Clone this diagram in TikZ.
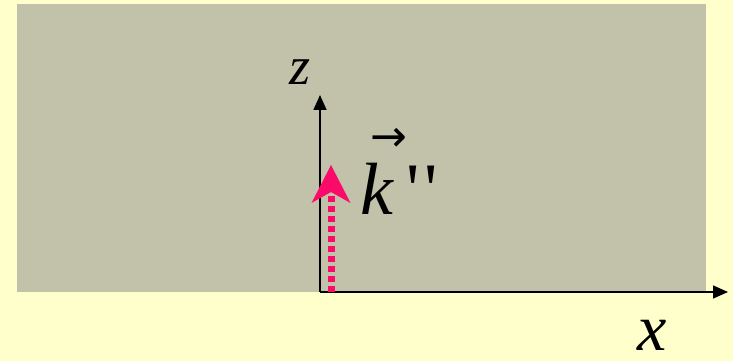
\documentclass[tikz,border=0pt]{standalone}
\usepackage{fontspec}
\setmainfont{Liberation Serif}
\newfontfamily\arrowfont{DejaVu Sans}
\usetikzlibrary{arrows.meta}
\definecolor{paper}{RGB}{255,255,204}
\definecolor{medium}{RGB}{194,194,170}
\definecolor{wave}{RGB}{250,10,105}

\begin{document}
\begin{tikzpicture}[x=1pt,y=1pt,
  axis/.style={black,line width=1.6pt,-{Triangle[length=15pt,width=13pt]}},
  wavevec/.style={wave,line width=7pt,dash pattern=on 6pt off 4pt,
                  -{Stealth[length=38pt,width=39pt,inset=11pt,line width=0pt]}},
  axlabel/.style={inner sep=0pt,font=\fontsize{54}{54}\selectfont\itshape}
]
% Page and the grey half-space.
\fill[paper] (0,0) rectangle (733,361);
\fill[medium] (17,69) rectangle (706,357);

\coordinate (O) at (320,69);
\coordinate (zend) at (320,266);
\coordinate (xend) at (728,69);
\coordinate (kfoot) at (331,69);
\coordinate (khead) at (331,196);

\draw[axis] (O) -- (zend);
\draw[axis] (O) -- (xend);
\draw[wavevec] (kfoot) -- (khead);

\node[axlabel] (zlab) at (300,289) {z};
\node[axlabel,font=\fontsize{66}{66}\selectfont\itshape] (xlab) at (652,26) {x};
\node[inner sep=0pt,anchor=base west,font=\fontsize{74}{74}\selectfont] (klab)
  at (360,146) {\rlap{\raisebox{63pt}{\kern10pt\arrowfont\fontsize{44}{44}\selectfont →}}%
  \textit{k}\kern12pt\textquotesingle\kern5pt\textquotesingle};
\end{tikzpicture}
\end{document}
